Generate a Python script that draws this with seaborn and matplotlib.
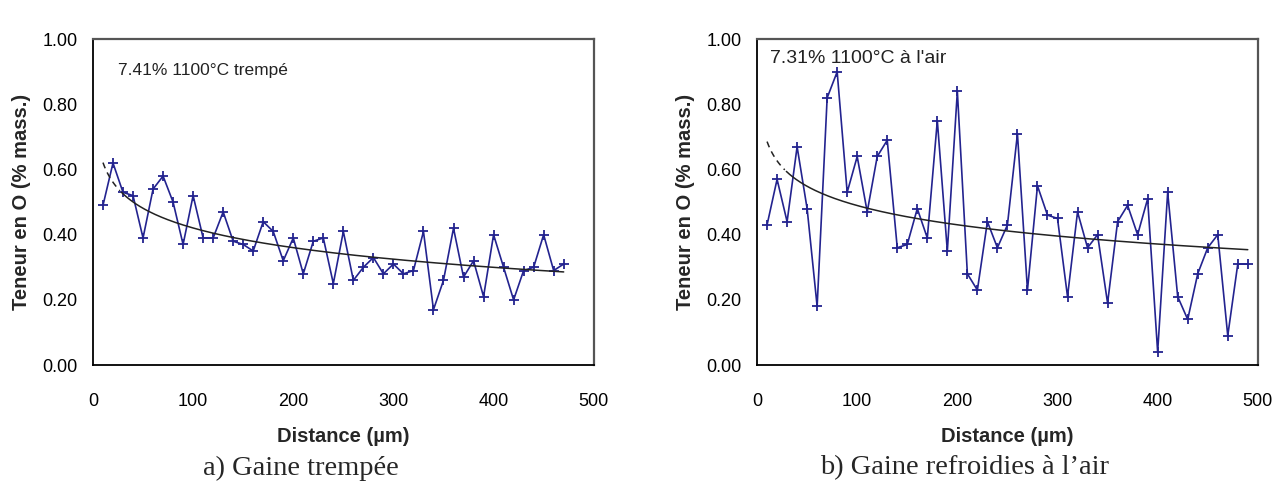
import matplotlib
matplotlib.use('Agg')
import matplotlib.pyplot as plt
from matplotlib.ticker import FormatStrFormatter
import numpy as np
import pandas as pd
import seaborn as sns

# Data (distance in µm, oxygen content in wt%)
dist_a = list(range(10, 480, 10))
oxy_a = [0.49, 0.62, 0.53, 0.52, 0.39, 0.54, 0.58, 0.50, 0.37, 0.52,
         0.39, 0.39, 0.47, 0.38, 0.37, 0.35, 0.44, 0.41, 0.32, 0.39,
         0.28, 0.38, 0.39, 0.25, 0.41, 0.26, 0.30, 0.33, 0.28, 0.31,
         0.28, 0.29, 0.41, 0.17, 0.26, 0.42, 0.27, 0.32, 0.21, 0.40,
         0.30, 0.20, 0.29, 0.30, 0.40, 0.29, 0.31]

dist_b = list(range(10, 500, 10))
oxy_b = [0.43, 0.57, 0.44, 0.67, 0.48, 0.18, 0.82, 0.90, 0.53, 0.64,
         0.47, 0.64, 0.69, 0.36, 0.37, 0.48, 0.39, 0.75, 0.35, 0.84,
         0.28, 0.23, 0.44, 0.36, 0.43, 0.71, 0.23, 0.55, 0.46, 0.45,
         0.21, 0.47, 0.36, 0.40, 0.19, 0.44, 0.49, 0.40, 0.51, 0.04,
         0.53, 0.21, 0.14, 0.28, 0.36, 0.40, 0.09, 0.31, 0.31]

labels_a = ('7.41% 1100°C trempé', 'a) Gaine trempée')
labels_b = ("7.31% 1100°C à l'air", "b) Gaine refroidies à l’air")

sns.set_style('white')
plt.rcParams['font.family'] = ['Liberation Sans', 'DejaVu Sans']

fig = plt.figure(figsize=(12.84, 4.96), dpi=100)
ax_a = fig.add_axes([0.0724, 0.264, 0.390, 0.657])
ax_b = fig.add_axes([0.5896, 0.264, 0.390, 0.657])

blue = '#23238f'

panels = [(ax_a, dist_a, oxy_a, labels_a, (0.05, 0.905), 12.5),
          (ax_b, dist_b, oxy_b, labels_b, (0.026, 0.94), 14)]

for ax, x, y, (note, caption), note_xy, note_fs in panels:
    df = pd.DataFrame({'Distance': x, 'O': y})
    sns.lineplot(data=df, x='Distance', y='O', ax=ax, color=blue, lw=1.2,
                 marker='+', markersize=7, markeredgewidth=1.3,
                 markeredgecolor=blue)

    # logarithmic trend line (least squares on ln x)
    b, a = np.polyfit(np.log(df['Distance']), df['O'], 1)
    xs = np.linspace(x[0], x[-1], 300)
    ys = a + b * np.log(xs)
    cut = xs <= x[0] + 18
    ax.plot(xs[cut], ys[cut], color='#222222', lw=1.1, ls=(0, (4, 3)))
    ax.plot(xs[~cut], ys[~cut], color='#222222', lw=1.1)

    ax.set_xlim(0, 500)
    ax.set_ylim(0, 1)
    ax.set_xticks(range(0, 501, 100))
    ax.set_yticks([0, 0.2, 0.4, 0.6, 0.8, 1.0])
    ax.yaxis.set_major_formatter(FormatStrFormatter('%.2f'))
    ax.tick_params(direction='in', length=5, width=1, labelsize=13,
                   colors='black')
    ax.tick_params(axis='y', pad=11)
    ax.tick_params(axis='x', pad=20)
    ax.set_xlabel('Distance (µm)', fontsize=14.5, fontweight='bold', labelpad=12)
    ax.set_ylabel('Teneur en O (% mass.)', fontsize=14.5, fontweight='bold',
                  labelpad=8)
    for s in ['left', 'bottom']:
        ax.spines[s].set_color('black')
        ax.spines[s].set_linewidth(1.3)
    for s in ['top', 'right']:
        ax.spines[s].set_color('#555555')
        ax.spines[s].set_linewidth(1.6)

    ax.text(note_xy[0], note_xy[1], note, transform=ax.transAxes,
            fontsize=note_fs, va='center', ha='left', color='#222222')
    ax.text(0.5 - 0.085, -0.316, caption, transform=ax.transAxes,
            fontsize=20.5, ha='center', va='center',
            family=['Liberation Serif', 'DejaVu Serif'])

fig.savefig('out.png', dpi=100)
